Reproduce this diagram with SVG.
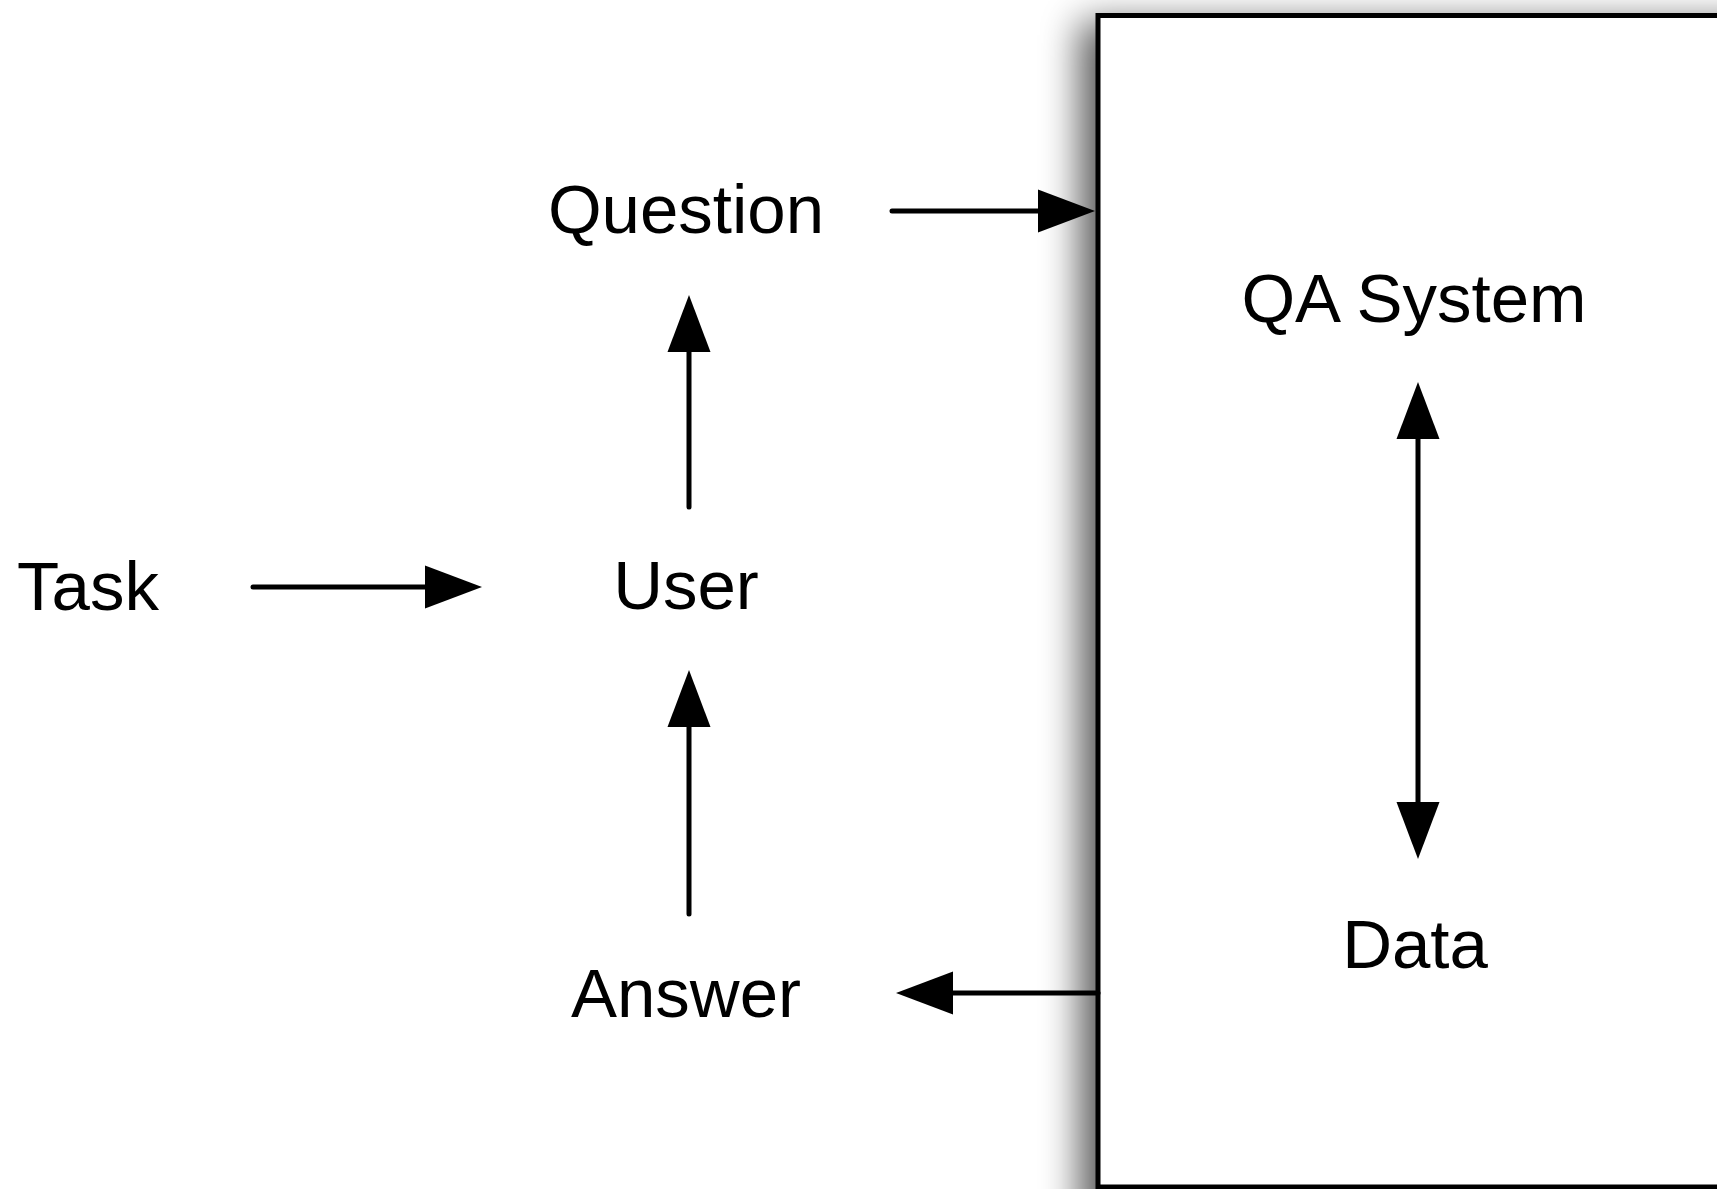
<svg xmlns="http://www.w3.org/2000/svg" width="1717" height="1189" viewBox="0 0 1717 1189">
  <style>
    .label { font-family: "Liberation Sans", Arial, sans-serif; font-size: 69px; fill: #000; text-anchor: middle; }
    .link { stroke: #000; stroke-width: 5; stroke-linecap: round; fill: none; }
  </style>
  <defs>
    <marker id="head" markerUnits="userSpaceOnUse" markerWidth="58" markerHeight="44" refX="0" refY="21.5" orient="auto-start-reverse" overflow="visible">
      <path d="M0,0 L57,21.5 L0,43 Z" fill="#000"/>
    </marker>
    <filter id="shadow" x="-20%" y="-20%" width="140%" height="140%">
      <feGaussianBlur stdDeviation="19"/>
    </filter>
  </defs>

  <rect width="1717" height="1189" fill="#fff"/>

  <!-- QA system container with soft drop shadow -->
  <g id="qa-system">
    <rect x="1080" y="22" width="700" height="1210" fill="#000" opacity="0.65" filter="url(#shadow)"/>
    <rect x="1098" y="15.5" width="700" height="1171.5" fill="#fff" stroke="#000" stroke-width="5"/>
  </g>

  <g id="task"><text class="label" x="88" y="610">Task</text></g>
  <g id="user"><text class="label" x="686" y="609">User</text></g>
  <g id="question"><text class="label" x="686" y="233">Question</text></g>
  <g id="answer"><text class="label" x="686" y="1017">Answer</text></g>
  <g id="qa-label"><text class="label" x="1414" y="322">QA System</text></g>
  <g id="data"><text class="label" x="1415" y="968">Data</text></g>

  <g id="connectors">
    <line class="link" x1="253" y1="587" x2="425" y2="587" marker-end="url(#head)"/>
    <line class="link" x1="689" y1="507" x2="689" y2="352" marker-end="url(#head)"/>
    <line class="link" x1="689" y1="914" x2="689" y2="727" marker-end="url(#head)"/>
    <line class="link" x1="892" y1="211" x2="1038" y2="211" marker-end="url(#head)"/>
    <line class="link" x1="1098" y1="993" x2="953" y2="993" stroke-linecap="butt" marker-end="url(#head)"/>
    <line class="link" x1="1418" y1="439" x2="1418" y2="802" stroke-linecap="butt" marker-start="url(#head)" marker-end="url(#head)"/>
  </g>
</svg>
